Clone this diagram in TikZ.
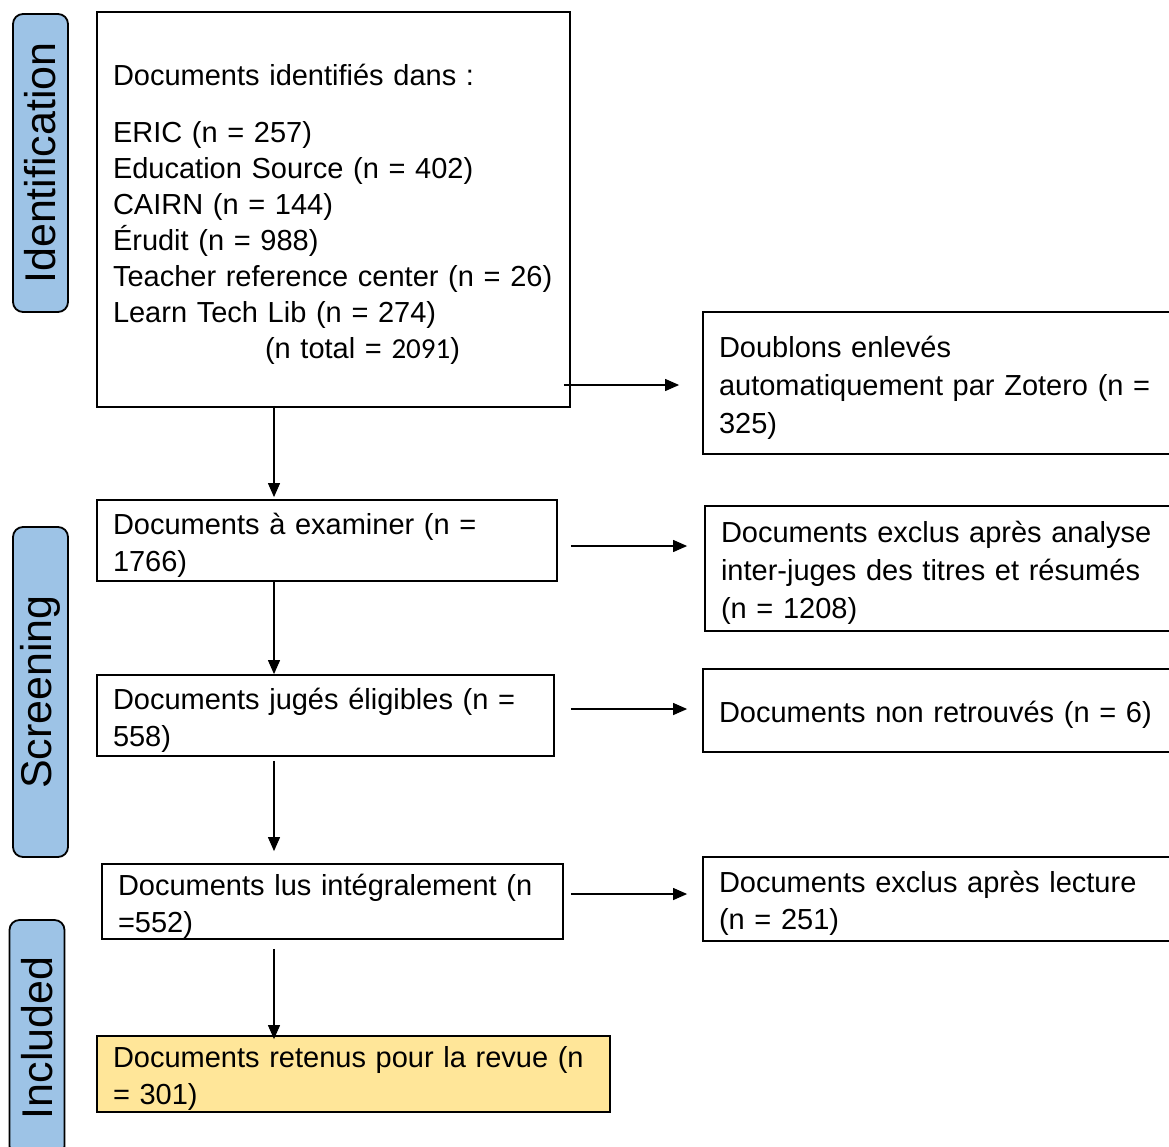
\documentclass[tikz,border=0pt]{standalone}
\usepackage{fontspec}
\setmainfont{Liberation Sans}
\newfontfamily\calibri{Carlito}
\usetikzlibrary{arrows.meta,calc}
\definecolor{phaseblue}{HTML}{9DC3E6}
\definecolor{keptyellow}{HTML}{FFE699}
\tikzset{
  box/.style={draw, line width=1.8pt, align=left, inner xsep=16pt, inner ysep=0pt,
    font=\fontsize{29}{37}\selectfont, execute at begin node={\rule{0pt}{30pt}}},
  phase/.style={draw, line width=1.8pt, rounded corners=10pt, fill=phaseblue,
    rotate=90, minimum height=55pt, inner sep=0pt, font=\fontsize{43}{43}\selectfont},
  arr/.style={line width=1.2pt, -{Triangle[length=14pt,width=12pt]}}
}
\begin{document}
\begin{tikzpicture}[x=1pt,y=-1pt]
\useasboundingbox (0,0) rectangle (1169,1146);
%
% phases on the left
\node[phase, minimum width=298pt] (ident) at (40.5,163) {Identification};
\node[phase, minimum width=330pt] (screen) at (40.5,692) {Screening};
\node[phase, minimum width=236pt] (incl) at (37,1038) {Included};

%% main column
\node[box, text width=441pt, minimum height=395pt] (box1) at (333.5,209.5)
  {Documents identifiés dans :\\[20pt]
   ERIC (n = 257)\\[-1pt]
   Education Source (n = 402)\\[-1pt]
   CAIRN (n = 144)\\[-1pt]
   Érudit (n = 988)\\[-1pt]
   Teacher reference center (n = 26)\\[-1pt]
   Learn Tech Lib (n = 274)\\[-1pt]
   \hspace*{152pt}(n total = {\calibri 2091})};
\node[box, text width=428pt, minimum height=81pt] (box2) at (327,540.5)
  {Documents à examiner (n =\\ 1766)};
\node[box, text width=425pt, minimum height=81pt] (box3) at (325.5,715.5)
  {Documents jugés éligibles (n =\\ 558)};
\node[box, text width=429pt, minimum height=75pt] (box4) at (332.5,901.5)
  {Documents lus intégralement (n\\ =552)};
\node[box, text width=481pt, minimum height=76pt, fill=keptyellow] (box5) at (353.5,1074)
  {Documents retenus pour la revue (n\\ = 301)};

%% excluded column
\node[box, text width=445pt, minimum height=142pt] (dbl) at (941.5,383)
  {Doublons enlevés\\[1pt] automatiquement par Zotero (n =\\[1pt] 325)};
\node[box, text width=445pt, minimum height=125pt] (excl1) at (943.5,568.5)
  {Documents exclus après analyse\\[1pt] inter-juges des titres et résumés\\[1pt] (n = 1208)};
\node[box, text width=445pt, minimum height=83pt] (nonret) at (941.5,710.5)
  {Documents non retrouvés (n = 6)};
\node[box, text width=445pt, minimum height=84pt] (lect) at (941.5,899)
  {Documents exclus après lecture\\ (n = 251)};

%% down the column
\coordinate (spine) at (274,0);
\draw[arr] ($(box1.south -| spine)+(0,-2)$) -- ($(box2.north -| spine)+(0,-2)$);
\draw[arr] (box2.south -| spine) -- (box3.north -| spine);
\draw[arr] ($(box3.south -| spine)+(0,4)$) -- ($(box4.north -| spine)+(0,-12)$);
\draw[arr] ($(box4.south -| spine)+(0,9)$) -- ($(box5.north -| spine)+(0,4)$);

%% to the right
\draw[arr] ($(box1.east |- dbl.west)+(-7,2)$) -- ($(dbl.west)+(-23,2)$);
\draw[arr] ($(box2.east)+(13,5.5)$) -- ($(box2.east -| excl1.west)+(-17,5.5)$);
\draw[arr] ($(box3.east |- nonret.west)+(16,-1.5)$) -- ($(nonret.west)+(-15,-1.5)$);
\draw[arr] ($(box4.east)+(7,-7.5)$) -- ($(box4.east -| lect.west)+(-15,-7.5)$);
\end{tikzpicture}
\end{document}
